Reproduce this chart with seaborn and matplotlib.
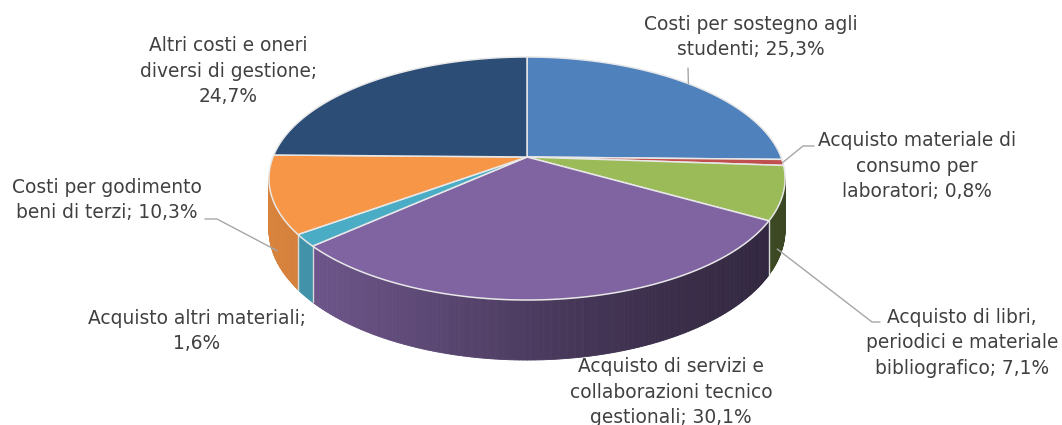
"""
3D-style pie chart of cost categories (Excel look), drawn with matplotlib + seaborn.
The pie is projected by hand: a flat disk seen in perspective, top face + front wall.
"""

import numpy as np
import matplotlib
matplotlib.use("Agg")
import matplotlib.pyplot as plt
import seaborn as sns
from matplotlib.collections import PolyCollection
from matplotlib.patches import Polygon


# data (clockwise from 12 o'clock)
names = [
    "Costi per sostegno agli\nstudenti",
    "Acquisto materiale di\nconsumo per\nlaboratori",
    "Acquisto di libri,\nperiodici e materiale\nbibliografico",
    "Acquisto di servizi e\ncollaborazioni tecnico\ngestionali",
    "Acquisto altri materiali",
    "Costi per godimento\nbeni di terzi",
    "Altri costi e oneri\ndiversi di gestione",
]
values = [25.3, 0.8, 7.1, 30.1, 1.6, 10.3, 24.7]
label_seps = [" ", " ", " ", " ", "\n", " ", "\n"]
colors = ["#4F81BD", "#C0504D", "#9BBB59", "#8064A2", "#4BACC6", "#F79646", "#2C4D75"]

# layout (pixels)
W, H = 1062, 425
CX, CY = 527, 157          # pie centre on screen
RX, RY = 254, 117.7        # radii of the disk
PERSP = 0.177              # perspective strength
DEPTH = 49.4               # thickness of the disk

label_pos = [(751, 37), (917, 166), (962, 343), (671, 392), (197, 331), (107, 200), (228, 71)]
# leader lines: (anchor depth on the pie, elbow points)
leaders = {
    0: (0.0, [(688, 68)]),
    1: (0.0, [(803, 146), (814, 146)]),
    2: (1.0, [(872, 322), (880, 322)]),
    5: (1.0, [(217, 219), (205, 219)]),
}


def proj(theta, z=0.0):
    # theta clockwise from top, z=0 top face, z=1 bottom face
    u, v = np.sin(theta), np.cos(theta)
    w = 1 + PERSP * v
    x = CX + RX * u / w
    y = CY + (-RY * v + DEPTH * z) / w
    return x, y


def shade(x):
    # lighting on the wall: lighter on the left, dark on the right
    return np.interp(x, [270, 330, 450, 560, 650, 785], [0.88, 0.83, 0.69, 0.56, 0.47, 0.38])


def main():
    sns.set_theme(style="white")
    plt.rcParams["font.family"] = ["DejaVu Sans"]
    palette = sns.color_palette(colors)

    fig = plt.figure(figsize=(W / 100, H / 100), dpi=100)
    ax = fig.add_axes([0, 0, 1, 1])
    ax.set_xlim(0, W)
    ax.set_ylim(H, 0)
    ax.axis("off")

    vals = np.array(values)
    bounds = np.concatenate([[0], np.cumsum(vals / vals.sum())]) * 2 * np.pi
    th_lo = np.arccos(-PERSP)
    th_hi = 2 * np.pi - th_lo

    # front wall, cut in thin strips for the gradient
    polys, fcs = [], []
    for i, col in enumerate(palette):
        a, b = max(bounds[i], th_lo), min(bounds[i + 1], th_hi)
        if a >= b:
            continue
        n = max(2, int(np.degrees(b - a) * 2))
        ts = np.linspace(a, b, n + 1)
        for t0, t1 in zip(ts[:-1], ts[1:]):
            p = [proj(t0), proj(t1), proj(t1, 1), proj(t0, 1)]
            polys.append(p)
            f = shade(np.mean([q[0] for q in p]))
            fcs.append(tuple(c * f for c in col))
    ax.add_collection(PolyCollection(polys, facecolors=fcs, edgecolors=fcs, linewidths=0.6, zorder=1))

    # wall dividers between slices
    for t in bounds[1:-1]:
        if th_lo < t < th_hi:
            (x0, y0), (x1, y1) = proj(t), proj(t, 1)
            ax.plot([x0, x1], [y0, y1], color="#D9D9D9", lw=1.0, zorder=2)

    # top face wedges
    for i, col in enumerate(palette):
        ts = np.linspace(bounds[i], bounds[i + 1], 120)
        xs, ys = proj(ts)
        pts = np.column_stack([np.r_[CX, xs], np.r_[CY, ys]])
        ax.add_patch(Polygon(pts, closed=True, facecolor=col, edgecolor="#E8E8E8",
                             lw=1.1, joinstyle="round", zorder=3))

    # labels + leader lines
    for i, name in enumerate(names):
        pct = f"{values[i]:.1f}".replace(".", ",") + "%"
        txt = f"{name};{label_seps[i]}{pct}"
        lx, ly = label_pos[i]
        ax.text(lx, ly, txt, ha="center", va="center", fontsize=13.4, color="#404040",
                linespacing=1.44, zorder=5)
        if i in leaders:
            z, pts = leaders[i]
            mid = 0.5 * (bounds[i] + bounds[i + 1])
            ax_, ay_ = proj(mid, z)
            if z > 0:
                # sit a little inside the wall
                ax_ += 6 * np.sign(CX - ax_)
                ay_ += 4
            xs = [ax_] + [p[0] for p in pts]
            ys = [ay_] + [p[1] for p in pts]
            ax.plot(xs, ys, color="#A6A6A6", lw=1.0, zorder=4)

    fig.savefig("out.png", dpi=100)
    plt.close(fig)


if __name__ == "__main__":
    main()
